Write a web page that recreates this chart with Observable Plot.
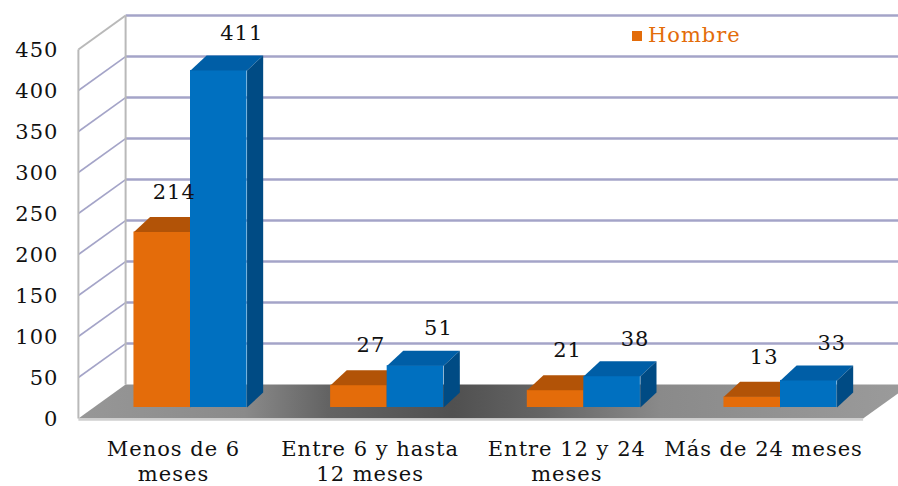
<!DOCTYPE html>
<html>
<head>
<meta charset="utf-8">
<script src="https://cdn.jsdelivr.net/npm/d3@7"></script>
<script src="https://cdn.jsdelivr.net/npm/@observablehq/plot@0.6"></script>
<style>
  body { margin: 0; background: #fff; }
  #wrap { position: relative; width: 898px; height: 486px; font-family: "DejaVu Serif", serif; }
  #chart svg { overflow: hidden; }
  #chart svg text { letter-spacing: 1px; }
  #legend { position: absolute; left: 632px; top: 22px; color: #e36c0a; font-size: 21px; line-height: 26px; letter-spacing: 1px; white-space: nowrap; }
  #legend .sw { display: inline-block; width: 10px; height: 10px; background: #e36c0a; margin-right: 6px; vertical-align: 1px; }
</style>
</head>
<body>
<div id="wrap">
  <div id="chart"></div>
  <div id="legend"><span class="sw"></span>Hombre</div>
</div>
<script>
// ---- data ----
const categories = ["Menos de 6\nmeses", "Entre 6 y hasta\n12 meses", "Entre 12 y 24\nmeses", "Más de 24 meses"];
const hombre = [214, 27, 21, 13];
const serie2 = [411, 51, 38, 33];
const yTicks = [0, 50, 100, 150, 200, 250, 300, 350, 400, 450];

// ---- 3D geometry (in data units of the bar front plane) ----
const BAR_W = 0.2875;            // bar width (x units)
const BAR_DX = 0.082, BAR_DY = 18.3; // bar depth offset
const FRONT = {x: -0.57, y: -13.4};  // floor / wall front-left corner
const BACK = {x: -0.33, y: 28};      // floor / wall back-left corner
const FLOOR_END = 3.42;              // front-right end of floor
const WDX = BACK.x - FRONT.x;
const Y_MAX = yTicks[yTicks.length - 1];

const colors = {
  orange: {front: "#e46c0a", top: "#b25307", side: "#9a4806"},
  blue: {front: "#0070c0", top: "#005ea6", side: "#004b84"}
};
const grid = "#a4a4c8";
const edge = "#b9b9b9";

const rowsO = hombre.map((v, i) => ({i, value: v, x1: i - BAR_W, x2: i}));
const rowsB = serie2.map((v, i) => ({i, value: v, x1: i, x2: i + BAR_W}));

const topFaces = (rows, key) => rows.flatMap(d => [
  [d.x1, d.value], [d.x2, d.value], [d.x2 + BAR_DX, d.value + BAR_DY], [d.x1 + BAR_DX, d.value + BAR_DY]
].map(([x, y]) => ({x, y, id: key + d.i})));
const sideFaces = (rows, key) => rows.flatMap(d => [
  [d.x2, 0], [d.x2 + BAR_DX, BAR_DY], [d.x2 + BAR_DX, d.value + BAR_DY], [d.x2, d.value]
].map(([x, y]) => ({x, y, id: key + d.i})));

const floorPoly = [
  {x: FRONT.x, y: FRONT.y}, {x: BACK.x, y: BACK.y},
  {x: FLOOR_END + WDX, y: BACK.y}, {x: FLOOR_END, y: FRONT.y}
];

function barMarks(rows, c, key) {
  return [
    Plot.rect(rows, {x1: "x1", x2: "x2", y1: () => 0, y2: "value", fill: c.front}),
    Plot.line(topFaces(rows, key), {x: "x", y: "y", z: "id", fill: c.top, stroke: "none", curve: "linear-closed"}),
    Plot.line(sideFaces(rows, key), {x: "x", y: "y", z: "id", fill: c.side, stroke: "none", curve: "linear-closed"})
  ];
}

const fontSize = 21;

const chart = Plot.plot({
  width: 898,
  height: 486,
  x: {type: "linear", domain: [0, 3], range: [190, 780], axis: null},
  y: {type: "linear", domain: [0, 450], range: [407, 38], axis: null},
  style: {fontFamily: "'DejaVu Serif', serif", background: "white", color: "#111"},
  marks: [
    // back wall gridlines
    Plot.link(yTicks.filter(v => v > 0), {
      x1: () => BACK.x, x2: () => FLOOR_END + WDX + 0.2,
      y1: v => v + BACK.y, y2: v => v + BACK.y,
      stroke: grid, strokeWidth: 2.4
    }),
    // side wall gridlines
    Plot.link(yTicks.filter(v => v > 0 && v < Y_MAX), {
      x1: () => FRONT.x, y1: v => v + FRONT.y,
      x2: () => BACK.x, y2: v => v + BACK.y,
      stroke: grid, strokeWidth: 1.6
    }),
    // side wall edges
    Plot.link([0], {x1: () => FRONT.x, y1: () => FRONT.y, x2: () => FRONT.x, y2: () => Y_MAX + FRONT.y, stroke: edge, strokeWidth: 2}),
    Plot.link([0], {x1: () => BACK.x, y1: () => BACK.y, x2: () => BACK.x, y2: () => Y_MAX + BACK.y, stroke: edge, strokeWidth: 2}),
    Plot.link([0], {x1: () => FRONT.x, y1: () => Y_MAX + FRONT.y, x2: () => BACK.x, y2: () => Y_MAX + BACK.y, stroke: edge, strokeWidth: 2}),
    // floor
    Plot.line(floorPoly, {x: "x", y: "y", fill: "url(#floorGrad)", stroke: "none", curve: "linear-closed"}),
    Plot.link([0], {x1: () => FRONT.x, y1: () => FRONT.y, x2: () => FLOOR_END, y2: () => FRONT.y, stroke: "#cfcfcf", strokeWidth: 2.5, dy: 1}),
    // bars
    ...barMarks(rowsO, colors.orange, "o"),
    ...barMarks(rowsB, colors.blue, "b"),
    // data labels
    Plot.text(rowsO, {x: d => (d.x1 + d.x2) / 2, y: "value", text: d => String(d.value), dx: 12, dy: -40, fontSize, fill: "#111"}),
    Plot.text(rowsB, {x: d => (d.x1 + d.x2) / 2, y: "value", text: d => String(d.value), dx: 23, dy: -37, fontSize, fill: "#111"}),
    // y axis labels
    Plot.text(yTicks, {x: () => FRONT.x, y: v => v + FRONT.y, text: v => String(v), textAnchor: "end", dx: -20, dy: 1, fontSize, fill: "#111"}),
    // category labels
    Plot.text(categories, {x: (d, i) => i, y: () => FRONT.y, text: d => d, dx: -17, dy: 20, lineAnchor: "top", lineHeight: 1.19, fontSize, fill: "#111"})
  ]
});

// floor gradient
const ns = "http://www.w3.org/2000/svg";
const defs = document.createElementNS(ns, "defs");
const lg = document.createElementNS(ns, "linearGradient");
lg.setAttribute("id", "floorGrad");
lg.setAttribute("x1", "0"); lg.setAttribute("x2", "1"); lg.setAttribute("y1", "0"); lg.setAttribute("y2", "0");
[[0, "#979797"], [0.2, "#8a8a8a"], [0.3, "#636363"], [0.45, "#505050"], [0.56, "#656565"], [0.7, "#8a8a8a"], [1, "#9b9b9b"]]
  .forEach(([o, c]) => {
    const s = document.createElementNS(ns, "stop");
    s.setAttribute("offset", o); s.setAttribute("stop-color", c);
    lg.appendChild(s);
  });
defs.appendChild(lg);
chart.insertBefore(defs, chart.firstChild);

document.getElementById("chart").appendChild(chart);
</script>
</body>
</html>
